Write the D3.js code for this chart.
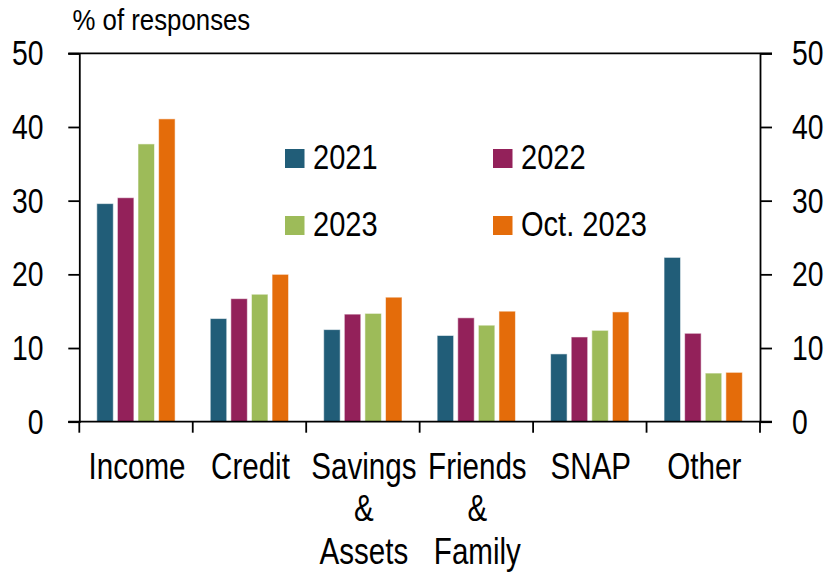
<!DOCTYPE html>
<html>
<head>
<meta charset="utf-8">
<script src="https://cdn.jsdelivr.net/npm/d3@7"></script>
<style>
  html, body { margin: 0; padding: 0; background: #fff; }
  svg { display: block; }
  text { font-family: "Liberation Sans", Arial, Helvetica, sans-serif; fill: #000; }
</style>
</head>
<body>
<div id="chart"></div>
<script>
// ---- data ----
const categories = ["Income", "Credit", "Savings & Assets", "Friends & Family", "SNAP", "Other"];
const categoryLines = [["Income"], ["Credit"], ["Savings", "&", "Assets"], ["Friends", "&", "Family"], ["SNAP"], ["Other"]];
const seriesNames = ["2021", "2022", "2023", "Oct. 2023"];
const values2021 = [29.6, 14.0, 12.5, 11.7, 9.2, 22.3];
const values2022 = [30.4, 16.7, 14.6, 14.1, 11.5, 12.0];
const values2023 = [37.7, 17.3, 14.7, 13.1, 12.4, 6.6];
const valuesOct2023 = [41.1, 20.0, 16.9, 15.0, 14.9, 6.7];
const yTicks = [0, 10, 20, 30, 40, 50];
const colors = ["#215d78", "#93215a", "#9dbb59", "#e46c0a"];
const yLabel = "% of responses";

const seriesValues = [values2021, values2022, values2023, valuesOct2023];

// ---- layout ----
const W = 827, H = 572;
const plotLeft = 79.3, plotRight = 760, plotTop = 53.3, plotBottom = 421.7;

const svg = d3.select("#chart").append("svg").attr("width", W).attr("height", H);

const x0 = d3.scaleBand().domain(categories).range([plotLeft, plotRight]).padding(0);
const x1 = d3.scaleBand().domain(seriesNames).range([17.5, 95.8]).paddingInner(0.2).paddingOuter(0);
const y = d3.scaleLinear().domain([0, 50]).range([plotBottom, plotTop]);

function ctext(g, x, yy, str, size, anchor, sx) {
  return g.append("text")
    .attr("transform", `translate(${x},${yy}) scale(${sx || 0.8},1)`)
    .attr("text-anchor", anchor || "start")
    .style("font-size", size + "px")
    .text(str);
}

// bars
const groups = svg.append("g").selectAll("g")
  .data(categories)
  .join("g")
  .attr("transform", d => `translate(${x0(d)},0)`);

groups.selectAll("rect")
  .data((d, i) => seriesNames.map((s, j) => ({ s, v: seriesValues[j][i], c: colors[j] })))
  .join("rect")
  .attr("x", d => x1(d.s))
  .attr("width", x1.bandwidth())
  .attr("y", d => y(d.v))
  .attr("height", d => y(0) - y(d.v))
  .attr("fill", d => d.c)
  .attr("stroke", "#ffffff")
  .attr("stroke-opacity", 0.55)
  .attr("stroke-width", 1);

// axes
const lw = 1.8;
const axisL = d3.axisLeft(y).tickValues(yTicks).tickSize(11).tickFormat("");
const axisR = d3.axisRight(y).tickValues(yTicks).tickSize(12).tickFormat("");
const gL = svg.append("g").attr("transform", `translate(${plotLeft},0)`).call(axisL);
const gR = svg.append("g").attr("transform", `translate(${plotRight},0)`).call(axisR);
[gL, gR].forEach(g => {
  g.selectAll("path.domain").attr("stroke", "#000").attr("stroke-width", lw);
  g.selectAll("line").attr("stroke", "#000").attr("stroke-width", lw);
});

// top & bottom lines
svg.append("line").attr("x1", plotLeft - 11).attr("x2", plotRight + 12).attr("y1", y(50)).attr("y2", y(50))
  .attr("stroke", "#000").attr("stroke-width", lw);
svg.append("line").attr("x1", plotLeft - 11).attr("x2", plotRight + 12).attr("y1", y(0)).attr("y2", y(0))
  .attr("stroke", "#000").attr("stroke-width", lw);

// category ticks at boundaries
const boundaries = categories.map(c => x0(c)).concat([x0(categories[categories.length - 1]) + x0.bandwidth()]);
svg.append("g").selectAll("line").data(boundaries).join("line")
  .attr("x1", d => d).attr("x2", d => d)
  .attr("y1", y(0)).attr("y2", y(0) + 11)
  .attr("stroke", "#000").attr("stroke-width", lw);

// y tick labels
const tl = svg.append("g");
yTicks.forEach(t => {
  ctext(tl, 43.5, y(t) + 12, String(t), 35, "end", 0.81);
  ctext(tl, 792, y(t) + 12, String(t), 35, "start", 0.81);
});

// category labels
const cl = svg.append("g");
categories.forEach((c, i) => {
  const cx = x0(c) + x0.bandwidth() / 2 + 1;
  categoryLines[i].forEach((ln, k) => {
    ctext(cl, cx, 478.5 + k * 42.5, ln, 36.5, "middle", 0.81);
  });
});

// y label
ctext(svg, 72.5, 30, yLabel, 30, "start", 0.86);

// legend
const legPos = [[285, 149], [493, 149], [285, 216], [493, 216]];
const lg = svg.append("g");
seriesNames.forEach((s, j) => {
  const [lx, ly] = legPos[j];
  lg.append("rect").attr("x", lx).attr("y", ly).attr("width", 19.5).attr("height", 19).attr("fill", colors[j]);
  ctext(lg, lx + 28, ly + 19.5, s, 35, "start", 0.83);
});
</script>
</body>
</html>
